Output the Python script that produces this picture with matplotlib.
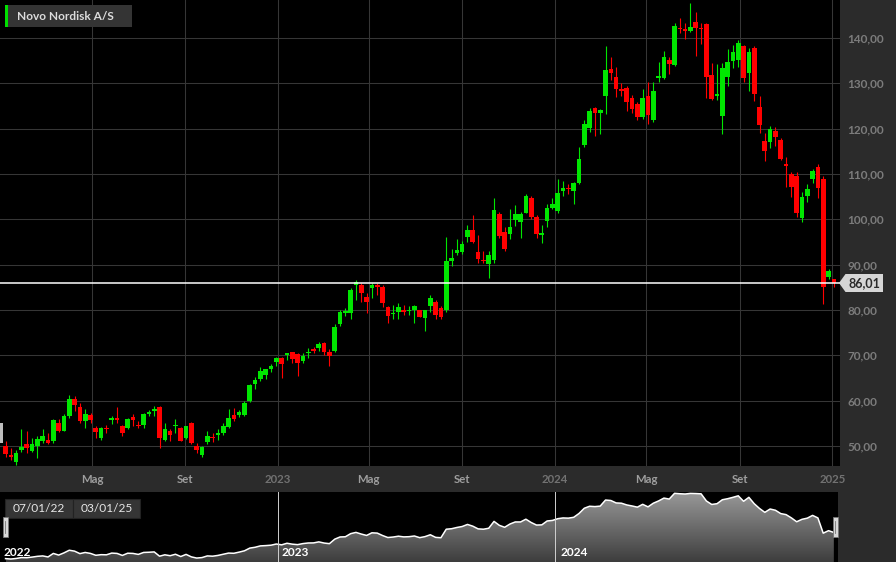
import numpy as np
import pandas as pd
import matplotlib
matplotlib.use("Agg")
import matplotlib.pyplot as plt
import matplotlib.dates as mdates
from matplotlib.patches import Rectangle, Polygon

# Weekly candles, Novo Nordisk A/S, 07/01/22 - 03/01/25
opens = [50.0, 48.0, 46.5, 49.1, 50.4, 48.9, 50.0, 51.2, 51.3, 51.1, 55.1, 53.4, 56.5, 60.3, 58.5, 55.5,
         56.8, 54.0, 51.7, 53.9, 55.7, 56.2, 54.4, 54.0, 56.3, 54.5, 54.6, 57.1, 57.8, 58.5, 51.3, 53.4,
         54.4, 53.9, 51.7, 55.1, 50.1, 47.9, 50.8, 51.9, 52.4, 52.8, 54.1, 56.8, 56.8, 56.8, 60.0, 63.7,
         64.8, 65.7, 67.0, 68.6, 69.5, 70.0, 70.7, 70.3, 68.8, 70.4, 71.3, 71.7, 72.8, 70.7, 71.0, 76.8,
         79.3, 79.4, 85.6, 85.5, 82.9, 84.8, 85.3, 85.1, 80.7, 79.1, 79.6, 79.8, 79.7, 79.9, 80.0, 78.3,
         80.9, 81.8, 80.4, 80.0, 90.7, 92.6, 92.8, 96.0, 97.6, 92.7, 91.0, 90.1, 91.0, 101.1, 97.1, 96.7,
         99.9, 99.5, 101.5, 104.8, 100.4, 96.5, 99.6, 102.6, 101.8, 106.3, 107.0, 106.2, 108.1, 116.4, 120.2, 124.5,
         123.5, 127.3, 133.2, 131.5, 128.7, 128.9, 126.7, 125.4, 122.5, 127.2, 121.8, 131.2, 131.2, 135.1, 134.0, 142.3,
         141.8, 141.6, 143.6, 142.1, 143.1, 131.8, 127.3, 122.9, 131.5, 134.9, 135.1, 138.2, 132.2, 137.9, 124.8, 117.3,
         117.0, 119.5, 117.5, 112.2, 110.1, 109.6, 100.2, 105.2, 108.8, 111.5, 109.0, 87.3, 86.8]
highs = [51.0, 49.5, 49.1, 53.7, 53.2, 51.8, 52.1, 53.7, 52.9, 55.9, 55.9, 57.1, 61.2, 61.0, 59.4, 58.1,
         57.2, 54.4, 54.1, 54.6, 56.6, 58.5, 54.6, 56.1, 57.1, 55.6, 57.2, 58.0, 58.8, 58.8, 55.1, 53.7,
         55.9, 54.1, 54.5, 55.3, 50.6, 49.9, 53.2, 52.9, 53.7, 55.0, 58.1, 58.3, 58.0, 60.0, 63.6, 65.3,
         67.5, 67.0, 68.1, 69.7, 69.7, 70.6, 70.8, 70.4, 70.4, 71.7, 71.9, 72.9, 73.0, 71.5, 76.9, 79.9,
         80.4, 84.8, 86.6, 85.9, 83.7, 86.0, 85.9, 85.5, 80.9, 81.1, 81.5, 81.2, 80.8, 81.1, 80.1, 80.1,
         83.3, 82.1, 80.9, 96.0, 93.4, 95.6, 95.3, 98.7, 100.9, 96.5, 92.9, 92.9, 104.6, 101.7, 98.4, 102.2,
         103.2, 101.7, 105.6, 105.1, 100.9, 98.7, 103.4, 104.8, 108.8, 108.5, 107.7, 108.3, 115.9, 121.8, 124.5, 124.7,
         124.3, 138.3, 135.7, 133.5, 130.0, 129.4, 127.4, 125.9, 128.7, 130.4, 130.4, 134.8, 137.1, 135.9, 143.4, 144.3,
         143.4, 147.8, 145.8, 143.4, 143.2, 134.4, 134.2, 134.4, 137.5, 138.5, 139.6, 138.5, 137.7, 138.2, 127.3, 119.0,
         120.6, 120.3, 117.9, 113.8, 110.5, 110.5, 106.1, 107.7, 111.2, 112.2, 109.6, 89.0, 86.8]
lows = [47.6, 46.9, 45.8, 48.7, 48.4, 48.7, 47.4, 50.6, 50.4, 50.7, 53.0, 53.2, 56.1, 57.8, 55.0, 54.0,
        55.0, 51.7, 51.3, 52.8, 54.8, 55.1, 52.2, 53.7, 54.3, 53.9, 53.9, 56.5, 56.7, 49.6, 51.0, 51.0,
        52.8, 51.0, 51.5, 50.4, 48.5, 47.6, 50.4, 50.8, 51.3, 52.5, 53.9, 55.4, 56.3, 56.5, 59.8, 62.5,
        64.4, 64.8, 66.4, 67.6, 65.1, 69.0, 68.2, 65.5, 68.4, 69.3, 70.4, 71.0, 70.1, 67.6, 70.8, 76.5,
        78.7, 77.9, 82.1, 81.8, 79.3, 82.6, 83.3, 80.6, 77.2, 77.9, 77.9, 79.0, 78.9, 77.2, 78.4, 75.4,
        79.6, 77.9, 78.0, 79.6, 89.6, 92.1, 92.3, 94.9, 94.7, 90.4, 90.3, 87.0, 90.4, 95.8, 92.9, 95.6,
        98.5, 95.9, 101.3, 100.0, 95.8, 94.7, 98.4, 102.2, 101.5, 105.2, 105.6, 103.3, 107.8, 116.0, 119.3, 118.4,
        118.8, 123.2, 130.7, 126.9, 127.1, 123.9, 123.4, 121.9, 122.1, 121.0, 121.4, 130.4, 130.9, 132.1, 133.9, 141.0,
        139.7, 141.4, 136.0, 138.7, 126.7, 126.3, 126.3, 118.8, 129.3, 133.3, 133.7, 130.4, 128.2, 126.0, 119.1, 112.9,
        115.7, 116.2, 113.1, 107.2, 105.0, 100.4, 99.3, 103.9, 108.1, 104.6, 81.3, 86.8, 85.0]
closes = [48.2, 47.6, 48.4, 49.7, 49.5, 50.4, 51.5, 52.1, 50.6, 55.7, 53.3, 56.5, 60.3, 59.0, 55.4, 57.1,
          55.7, 53.0, 53.9, 53.7, 56.2, 55.7, 52.8, 56.0, 55.7, 54.3, 57.1, 57.4, 57.9, 51.7, 53.7, 52.4,
          54.5, 51.2, 54.3, 50.7, 49.0, 49.7, 52.1, 51.7, 52.8, 54.5, 56.2, 55.9, 57.6, 59.5, 63.4, 64.6,
          66.6, 67.0, 67.6, 69.3, 68.1, 70.4, 69.1, 68.4, 69.9, 70.8, 70.9, 72.4, 70.7, 69.8, 76.3, 79.5,
          79.8, 84.3, 86.1, 83.7, 81.7, 85.5, 85.1, 81.6, 78.7, 79.4, 80.6, 79.6, 79.9, 80.9, 78.5, 80.0,
          82.7, 78.9, 78.4, 90.7, 91.4, 93.2, 94.6, 97.6, 95.1, 91.2, 90.7, 92.1, 102.0, 96.3, 93.5, 98.2,
          101.2, 101.2, 105.2, 100.4, 96.7, 97.0, 102.6, 103.4, 105.9, 107.0, 106.7, 107.9, 113.4, 121.0, 123.9, 123.4,
          124.1, 132.9, 132.2, 128.7, 128.3, 125.8, 124.3, 122.6, 126.7, 123.0, 128.3, 131.6, 135.7, 134.3, 142.6, 142.0,
          141.6, 142.5, 142.3, 141.9, 131.5, 126.5, 127.6, 133.3, 134.8, 136.8, 139.0, 131.1, 136.8, 127.6, 120.7, 115.1,
          119.9, 118.1, 113.3, 111.8, 107.1, 101.5, 105.0, 106.7, 110.7, 107.0, 85.0, 88.6, 86.01]

# partly hidden candle of the previous week at the left edge
prev_open, prev_close = 55.1, 50.65

last_price = 86.01
price_ticks = [50, 60, 70, 80, 90, 100, 110, 120, 130, 140]
month_ticks = ["2022-05-01", "2022-09-01", "2023-01-01", "2023-05-01", "2023-09-01",
               "2024-01-01", "2024-05-01", "2024-09-01", "2025-01-01"]
month_labels = ["Mag", "Set", "2023", "Mag", "Set", "2024", "Mag", "Set", "2025"]
nav_years = ["2023-01-01", "2024-01-01"]
title = "Novo Nordisk A/S"
range_start, range_end = "07/01/22", "03/01/25"

W, H = 896, 562
GREEN = "#00e600"
RED = "#ff0000"
GRID = "#363636"
PANEL = "#2b2b2b"
FONT = ["Lato", "DejaVu Sans"]


def fx(px):
    return px / W


def fy(py):
    return 1 - py / H


o = np.array(opens)
h = np.array(highs)
l = np.array(lows)
c = np.array(closes)
dates = pd.date_range("2022-01-07", periods=len(c), freq="7D")
x = mdates.date2num(dates)

d0 = mdates.date2num(pd.Timestamp("2022-01-01"))
ppd = 0.7585  # pixels per day

fig = plt.figure(figsize=(W / 100, H / 100), dpi=100, facecolor=PANEL)

# ---- main candlestick panel
ax = fig.add_axes([0, fy(466), fx(840), 466 / H])
ax.set_facecolor("black")
for s in ax.spines.values():
    s.set_visible(False)

up = c >= o
cols = np.where(up, GREEN, RED)
body_w = 6.1
ax.vlines(x, l, h, colors=cols, linewidth=0.8, zorder=2)
ax.bar(x, np.maximum(np.abs(c - o), 0.3), bottom=np.minimum(o, c), width=body_w,
       color=cols, linewidth=0, zorder=3)
xp = mdates.date2num(pd.Timestamp("2021-12-31"))
ax.bar([xp], [prev_open - prev_close], bottom=[prev_close], width=body_w,
       color="#bdbdbd", linewidth=0, zorder=3)

ax.axhline(last_price, color="white", linewidth=1.1, zorder=4)

ax.set_xlim(d0 - 1.0 / ppd, d0 + 839 / ppd)
ax.set_ylim(45.58, 148.38)

ax.set_yticks(price_ticks)
ax.set_yticklabels([f"{v:.2f}".replace(".", ",") for v in price_ticks])
ax.yaxis.tick_right()
ax.set_xticks(mdates.date2num(pd.to_datetime(month_ticks)))
ax.set_xticklabels(month_labels)
ax.tick_params(axis="both", length=0)
ax.tick_params(axis="y", pad=5.2)
ax.tick_params(axis="x", pad=5.5)
for t in ax.get_yticklabels():
    t.set_fontfamily(FONT)
    t.set_fontweight("bold")
    t.set_fontsize(8.5)
    t.set_color("#7c7c7c")
for t, lab in zip(ax.get_xticklabels(), month_labels):
    t.set_fontfamily(FONT)
    t.set_fontweight("bold")
    t.set_fontsize(8.2)
    t.set_color("#727272" if lab.isdigit() else "#9e9e9e")
ax.grid(True, color=GRID, linewidth=0.75, zorder=0)
ax.set_axisbelow(True)

# title box
fig.patches.append(Rectangle((fx(5), fy(27)), fx(127), 22 / H, transform=fig.transFigure,
                             facecolor="#343434", edgecolor="none", zorder=5))
fig.patches.append(Rectangle((fx(5), fy(27)), fx(3), 22 / H, transform=fig.transFigure,
                             facecolor="#00e000", edgecolor="none", zorder=6))
fig.text(fx(17), fy(16.5), title, fontsize=8.6, fontweight="bold", family=FONT,
         color="#dcdcdc", ha="left", va="center", zorder=7)

# last price marker
fig.patches.append(Polygon([(fx(839), fy(283)), (fx(845.5), fy(274)), (fx(883), fy(274)),
                            (fx(883), fy(292)), (fx(845.5), fy(292))], closed=True,
                           transform=fig.transFigure, facecolor="#d6d6d6", edgecolor="none", zorder=5))
fig.text(fx(864), fy(283.5), f"{last_price:.2f}".replace(".", ","), fontsize=9, fontweight="bold",
         family=FONT, color="#2a2a2a", ha="center", va="center", zorder=6)

# ---- navigator panel
nav = fig.add_axes([0, 0, fx(838), 70 / H])
nav.set_facecolor("black")
for s in nav.spines.values():
    s.set_visible(False)
nav.set_xticks([])
nav.set_yticks([])
nav.set_xlim(d0 - 1.0 / ppd, d0 + 837 / ppd)
ny0, ny1 = 43.3, 144.5
nav.set_ylim(ny0, ny1)

fill = nav.fill_between(x, c, ny0, facecolor="none", edgecolor="none")
grad = np.linspace(1, 0, 256).reshape(-1, 1)
img = nav.imshow(grad, extent=[x[0], x[-1], ny0, ny1], aspect="auto", cmap="gray",
                 vmin=-0.67, vmax=2.11, origin="upper", zorder=1)
img.set_clip_path(fill.get_paths()[0], transform=nav.transData)
nav.plot(x, c, color="white", linewidth=1.1, zorder=3)
for yd in nav_years:
    nav.axvline(mdates.date2num(pd.Timestamp(yd)), color="#d0d0d0", linewidth=0.7, zorder=4)

for lab, px in [("2022", 3), ("2023", 281), ("2024", 560)]:
    fig.text(fx(px), fy(552.5), lab, fontsize=8.6, fontweight="bold", family=FONT,
             color="white", ha="left", va="center", zorder=6)

# range boxes
fig.patches.append(Rectangle((fx(5), fy(518)), fx(68), 19 / H, transform=fig.transFigure,
                             facecolor="#353535", edgecolor="#222222", linewidth=0.8, zorder=5))
fig.patches.append(Rectangle((fx(73), fy(518)), fx(67), 19 / H, transform=fig.transFigure,
                             facecolor="#353535", edgecolor="#222222", linewidth=0.8, zorder=5))
fig.text(fx(39), fy(508.5), range_start, fontsize=8.6, family=FONT, color="#e6e6e6",
         ha="center", va="center", zorder=6)
fig.text(fx(106.5), fy(508.5), range_end, fontsize=8.6, family=FONT, color="#e6e6e6",
         ha="center", va="center", zorder=6)

# handles
for hx in (3, 833):
    fig.patches.append(Rectangle((fx(hx), fy(537)), fx(4.5), 20 / H, transform=fig.transFigure,
                                 facecolor="#d8d8d8", edgecolor="#777777", linewidth=0.6, zorder=7))
    fig.lines.append(plt.Line2D([fx(hx + 2.25), fx(hx + 2.25)], [fy(533), fy(521)],
                                transform=fig.transFigure, color="#777777", linewidth=0.6, zorder=8))

fig.savefig("out.png", dpi=100, facecolor=PANEL)
